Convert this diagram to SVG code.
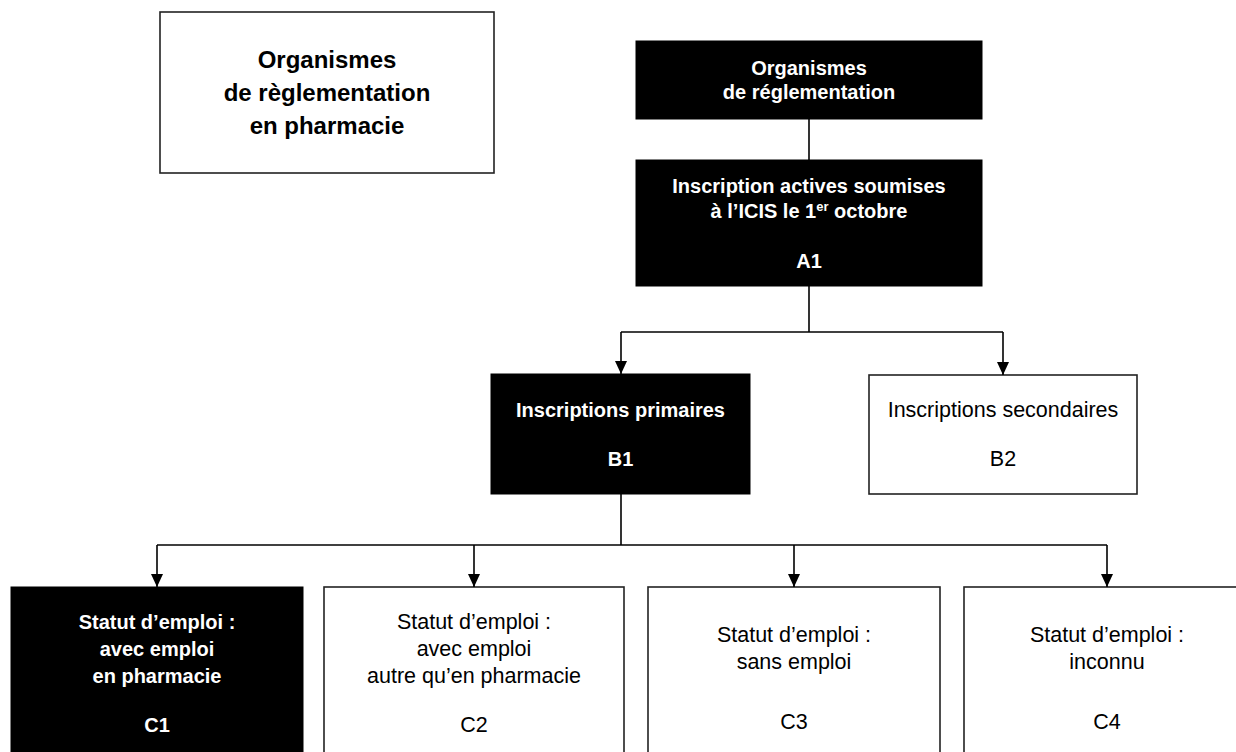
<svg xmlns="http://www.w3.org/2000/svg" width="1236" height="752" viewBox="0 0 1236 752">
<style>
.box{fill:#fff;stroke:#222;stroke-width:1.6}
.dark{fill:#000;stroke:#000;stroke-width:1}
.t{font-family:"Liberation Sans",Arial,sans-serif;font-size:20px;text-anchor:middle}
.r{font-size:21.5px}
.b{font-weight:bold}
.w{fill:#fff}
.k{fill:#000}
.big{font-size:24px}
.line{fill:none;stroke:#000;stroke-width:1.6}
</style>
<defs>
<marker id="arr" markerWidth="13" markerHeight="12" refX="13" refY="6" orient="auto" markerUnits="userSpaceOnUse" viewBox="0 0 13 12">
<path d="M0,0 L13,6 L0,12 Z" fill="#000"/>
</marker>
</defs>
<g id="legend">
<rect class="box" x="160" y="12" width="334" height="161"/>
<text class="t b k big" x="327" y="68">Organismes</text>
<text class="t b k big" x="327" y="101">de règlementation</text>
<text class="t b k big" x="327" y="134">en pharmacie</text>
</g>
<g id="org">
<rect class="dark" x="636" y="41" width="346" height="78"/>
<text class="t b w" x="809" y="75">Organismes</text>
<text class="t b w" x="809" y="99">de réglementation</text>
</g>
<g id="A1">
<rect class="dark" x="636" y="160" width="346" height="126"/>
<text class="t b w" x="809" y="193">Inscription actives soumises</text>
<text class="t b w" x="809" y="218">à l’ICIS le 1<tspan font-size="13" dy="-7">er</tspan><tspan dy="7"> octobre</tspan></text>
<text class="t b w" x="809" y="268">A1</text>
</g>
<g id="B1">
<rect class="dark" x="491" y="374" width="259" height="120"/>
<text class="t b w" x="620.5" y="417">Inscriptions primaires</text>
<text class="t b w" x="620.5" y="466">B1</text>
</g>
<g id="B2">
<rect class="box" x="869" y="375" width="268" height="119"/>
<text class="t r k" x="1003" y="417">Inscriptions secondaires</text>
<text class="t r k" x="1003" y="466">B2</text>
</g>
<g id="C1">
<rect class="dark" x="11" y="587" width="292" height="180"/>
<text class="t b w" x="157" y="629">Statut d’emploi :</text>
<text class="t b w" x="157" y="656">avec emploi</text>
<text class="t b w" x="157" y="683">en pharmacie</text>
<text class="t b w" x="157" y="732">C1</text>
</g>
<g id="C2">
<rect class="box" x="324" y="587" width="300" height="180"/>
<text class="t r k" x="474" y="629">Statut d’emploi :</text>
<text class="t r k" x="474" y="656">avec emploi</text>
<text class="t r k" x="474" y="683">autre qu’en pharmacie</text>
<text class="t r k" x="474" y="732">C2</text>
</g>
<g id="C3">
<rect class="box" x="648" y="587" width="292" height="180"/>
<text class="t r k" x="794" y="642">Statut d’emploi :</text>
<text class="t r k" x="794" y="669">sans emploi</text>
<text class="t r k" x="794" y="729">C3</text>
</g>
<g id="C4">
<rect class="box" x="964" y="587" width="290" height="180"/>
<text class="t r k" x="1107" y="642">Statut d’emploi :</text>
<text class="t r k" x="1107" y="669">inconnu</text>
<text class="t r k" x="1107" y="729">C4</text>
</g>
<g id="connectors">
<line class="line" x1="809" y1="119" x2="809" y2="160"/>
<line class="line" x1="809" y1="286" x2="809" y2="332"/>
<line class="line" x1="621" y1="332" x2="1003" y2="332"/>
<line class="line" x1="621" y1="332" x2="621" y2="374" marker-end="url(#arr)"/>
<line class="line" x1="1003" y1="332" x2="1003" y2="375" marker-end="url(#arr)"/>
<line class="line" x1="621" y1="494" x2="621" y2="545"/>
<line class="line" x1="157" y1="545" x2="1107" y2="545"/>
<line class="line" x1="157" y1="545" x2="157" y2="587" marker-end="url(#arr)"/>
<line class="line" x1="474" y1="545" x2="474" y2="587" marker-end="url(#arr)"/>
<line class="line" x1="794" y1="545" x2="794" y2="587" marker-end="url(#arr)"/>
<line class="line" x1="1107" y1="545" x2="1107" y2="587" marker-end="url(#arr)"/>
</g>
</svg>
